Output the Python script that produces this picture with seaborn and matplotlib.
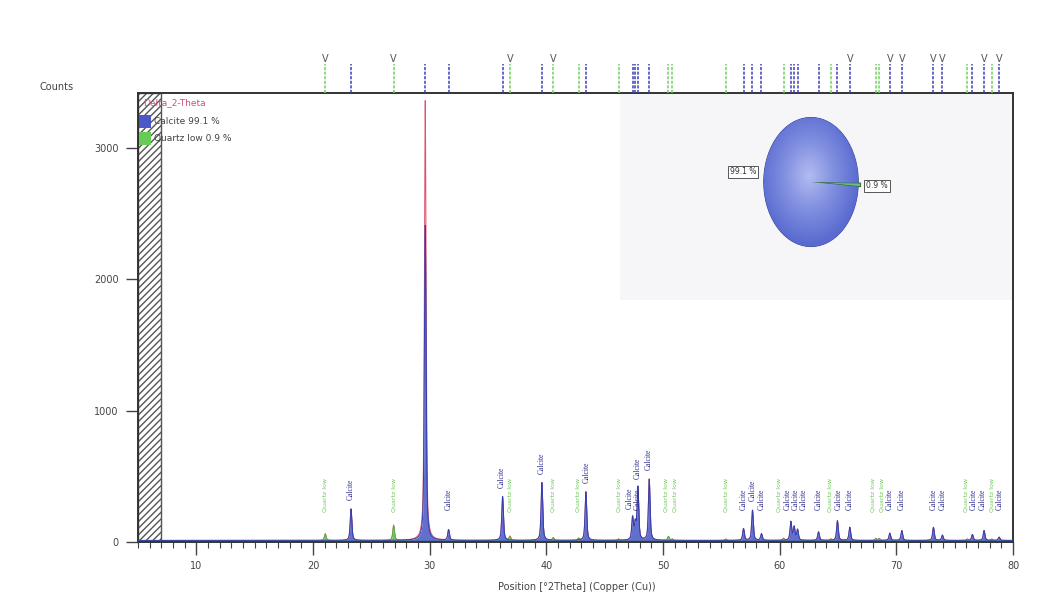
import numpy as np
import pandas as pd
import matplotlib
matplotlib.use("Agg")
import matplotlib.pyplot as plt
from matplotlib.ticker import MultipleLocator
from matplotlib.patches import Rectangle
from matplotlib.colors import LinearSegmentedColormap
import seaborn as sns

# ---------------- data ----------------
calcite_pos = [23.26, 29.62, 31.62, 36.25, 39.62, 43.39, 47.39, 47.62, 47.85, 48.82,
               56.90, 57.67, 58.44, 60.96, 61.24, 61.53, 63.33, 64.95, 66.01,
               69.44, 70.47, 73.18, 73.95, 76.52, 77.52, 78.81]
calcite_counts = [240, 2400, 80, 335, 440, 370, 170, 120, 400, 465,
                  90, 230, 50, 140, 100, 80, 65, 150, 100,
                  55, 75, 100, 40, 45, 75, 25]
observed_counts = [240, 3350, 80, 335, 440, 370, 170, 120, 400, 465,
                   90, 230, 50, 140, 100, 80, 65, 150, 100,
                   55, 75, 100, 40, 45, 75, 25]
quartz_pos = [21.05, 26.91, 36.88, 40.59, 42.76, 46.19, 50.47, 50.80, 55.39,
              60.33, 64.39, 68.24, 68.53, 76.09, 78.18]
quartz_counts = [50, 115, 30, 20, 15, 10, 30, 10, 10,
                 15, 10, 15, 15, 10, 10]
background_counts = 12
peak_marks = [21.05, 26.91, 36.88, 40.59, 66.01, 69.44, 70.47, 73.18, 73.95, 77.52, 78.81]
phase_labels = ["Calcite 99.1 %", "Quartz low 0.9 %"]
phase_fractions = [99.1, 0.9]
pie_labels = ["99.1 %", "0.9 %"]
scan_name = "Delta_2-Theta"
x_ticks = [10, 20, 30, 40, 50, 60, 70, 80]
y_ticks = [0, 1000, 2000, 3000]

# ---------------- build profile from the peak list ----------------
two_theta = np.arange(5.0, 80.0, 0.01)


def profile(x, positions, heights, fwhm=0.17, eta=0.6):
    y = np.zeros_like(x)
    for p, h in zip(positions, heights):
        d = (x - p) / (fwhm / 2.0)
        y += h * (eta / (1 + d ** 2) + (1 - eta) * np.exp(-np.log(2) * d ** 2))
    return y


calc_calcite = background_counts + profile(two_theta, calcite_pos, calcite_counts)
calc_quartz = background_counts + profile(two_theta, quartz_pos, quartz_counts)
observed = (background_counts + profile(two_theta, calcite_pos, observed_counts)
            + profile(two_theta, quartz_pos, quartz_counts))
df = pd.DataFrame({"two_theta": two_theta, "observed": observed,
                   "calcite": calc_calcite, "quartz": calc_quartz})

# ---------------- style ----------------
sns.set_theme(style="white")
plt.rcParams["font.family"] = ["DejaVu Sans"]
plt.rcParams["axes.edgecolor"] = "#333333"

W, H = 1064, 614
fig = plt.figure(figsize=(W / 100, H / 100), dpi=100, facecolor="white")

ax_l, ax_r, ax_t, ax_b = 138, 1013, 93, 542
ax = fig.add_axes([ax_l / W, 1 - ax_b / H, (ax_r - ax_l) / W, (ax_b - ax_t) / H])

# faint grey scan area at upper right
ax.add_patch(Rectangle((0.551, 0.54), 0.449, 0.46, transform=ax.transAxes,
                       facecolor="#f6f6f8", edgecolor="none", zorder=0))

# hatched excluded region
ax.axvspan(5, 7, facecolor="white", edgecolor="#555555", hatch="/////", lw=1.0, zorder=1)

sns.lineplot(data=df, x="two_theta", y="observed", color="#e0506a", lw=0.7, ax=ax, zorder=2)
ax.fill_between(df["two_theta"], background_counts, df["quartz"], color="#6acb5a", lw=0, zorder=3)
ax.plot(df["two_theta"], df["quartz"], color="#4fb04a", lw=0.6, zorder=3)
ax.fill_between(df["two_theta"], background_counts, df["calcite"], color="#5060c8", alpha=0.9, lw=0, zorder=4)
ax.plot(df["two_theta"], df["calcite"], color="#3340b0", lw=0.7, zorder=4)
ax.axhline(background_counts, color="#8a8a50", lw=0.6, zorder=2)

# phase labels above peaks (spread apart sideways where they would collide)
labels = []
for p, h in zip(calcite_pos, calcite_counts):
    if h > 1000:
        continue
    y0 = max(h + 80, 240)
    labels.append([p, y0, y0 + 210, "Calcite"])
for p, h in zip(quartz_pos, quartz_counts):
    y0 = max(h + 80, 230)
    labels.append([p, y0, y0 + 240, "Quartz low"])
labels.sort(key=lambda r: r[0])
gap = 0.72
for _ in range(400):
    moved = False
    for i in range(len(labels)):
        for j in range(i + 1, len(labels)):
            a, b = labels[i], labels[j]
            if a[1] < b[2] and b[1] < a[2] and abs(b[0] - a[0]) < gap:
                d = (gap - abs(b[0] - a[0])) / 2 + 1e-4
                if b[0] >= a[0]:
                    a[0] -= d
                    b[0] += d
                else:
                    a[0] += d
                    b[0] -= d
                moved = True
    if not moved:
        break
for x_lab, y0, _, txt in labels:
    if txt == "Calcite":
        ax.text(x_lab, y0, txt, rotation=90, ha="center", va="bottom", fontsize=5.5,
                color="#2c2c90", family=["Liberation Serif", "DejaVu Serif"], zorder=5)
    else:
        ax.text(x_lab, y0, txt, rotation=90, ha="center", va="bottom", fontsize=4.5,
                color="#6ccc55", zorder=5)

ax.set_xlim(5, 80)
ax.set_ylim(0, 3420)
ax.set_xticks(x_ticks)
ax.set_yticks(y_ticks)
ax.xaxis.set_minor_locator(MultipleLocator(1))
ax.tick_params(axis="both", which="major", direction="out", length=9, width=1.0,
               color="#444444", labelsize=7, labelcolor="#444444", pad=5)
ax.tick_params(axis="x", which="minor", direction="out", length=4, width=0.8, color="#444444")
ax.tick_params(axis="x", which="both", bottom=True)
ax.tick_params(axis="y", which="both", left=True)
for s in ax.spines.values():
    s.set_linewidth(1.4)
    s.set_color("#333333")
ax.set_xlabel("")
ax.set_ylabel("")

fig.text(57 / W, 1 - 87 / H, "Counts", ha="center", va="center", fontsize=7, color="#444444")
fig.text(577 / W, 1 - 587 / H, "Position [°2Theta] (Copper (Cu))", ha="center", va="center",
         fontsize=7, color="#444444")

# legend (drawn inside the axes, top-left)
ax.text(0.006, 0.978, scan_name, transform=ax.transAxes, fontsize=6.5, color="#d84a78",
        va="center", ha="left", zorder=6)
ax.add_patch(Rectangle((0.001, 0.922), 0.0137, 0.029, transform=ax.transAxes,
                       facecolor="#4a58c8", edgecolor="none", zorder=6))
ax.add_patch(Rectangle((0.001, 0.884), 0.0137, 0.029, transform=ax.transAxes,
                       facecolor="#66cc55", edgecolor="none", zorder=6))
ax.text(0.018, 0.936, phase_labels[0], transform=ax.transAxes, fontsize=6.5, color="#444444",
        va="center", ha="left", zorder=6)
ax.text(0.018, 0.899, phase_labels[1], transform=ax.transAxes, fontsize=6.5, color="#444444",
        va="center", ha="left", zorder=6)

# reference pattern sticks above the frame
ax_top = fig.add_axes([ax_l / W, 1 - ax_t / H, (ax_r - ax_l) / W, 40 / H], sharex=ax)
ax_top.axis("off")
ax_top.set_ylim(0, 1)
ax_top.vlines(calcite_pos, 0, 0.72, colors="#3d3db8", linestyles=(0, (2, 1)), lw=1.1)
ax_top.vlines(quartz_pos, 0, 0.72, colors="#72d060", linestyles=(0, (2, 1)), lw=1.1)
for p in peak_marks:
    ax_top.text(p, 0.86, "V", ha="center", va="center", fontsize=7, color="#555555")

# pie chart of phase fractions
px_c, py_c, pw, ph = 811, 182, 104, 142
ax_pie = fig.add_axes([(px_c - pw / 2) / W, 1 - (py_c + ph / 2) / H, pw / W, ph / H])
wedges, _ = ax_pie.pie(phase_fractions, colors=["#6577d8", "#6cc46c"], startangle=-0.8,
                       explode=[0, 0.05],
                       wedgeprops=dict(edgecolor="#3a4590", linewidth=0.7))
wedges[1].set_edgecolor("#2e6a2e")
yy, xx = np.mgrid[-1:1:300j, -1:1:300j]
rr = np.hypot(xx + 0.05, yy - 0.1)
cmap = LinearSegmentedColormap.from_list("pie", ["#b2bcf1", "#8190e0", "#5a6bd0"])
im = ax_pie.imshow(rr, extent=[-1, 1, -1, 1], cmap=cmap, vmin=0, vmax=1.05,
                   origin="lower", aspect="auto", zorder=1.5)
im.set_clip_path(wedges[0])
ax_pie.set_aspect("auto")
ax_pie.set_xlim(-1.1, 1.1)
ax_pie.set_ylim(-1.1, 1.1)
ax_pie.axis("off")

box = dict(boxstyle="square,pad=0.25", facecolor="white", edgecolor="#555555", lw=0.7)
fig.text(743 / W, 1 - 172 / H, pie_labels[0], ha="center", va="center", fontsize=5.5,
         color="#333333", bbox=box)
fig.text(877 / W, 1 - 186 / H, pie_labels[1], ha="center", va="center", fontsize=5.5,
         color="#333333", bbox=box)

fig.savefig("out.png", dpi=100, facecolor="white")
